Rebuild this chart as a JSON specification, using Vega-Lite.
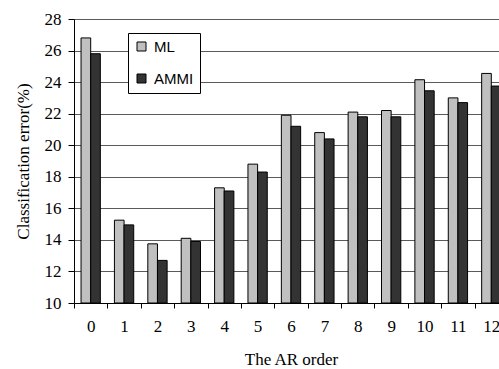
{
  "$schema": "https://vega.github.io/schema/vega-lite/v6.json",
  "autosize": "none",
  "width": 434,
  "height": 284,
  "padding": {"left": 74, "top": 19, "right": 0, "bottom": 66},
  "background": "white",
  "data": {
    "values": [
      {"order": "0", "method": "ML", "error": 26.8},
      {"order": "0", "method": "AMMI", "error": 25.8},
      {"order": "1", "method": "ML", "error": 15.25},
      {"order": "1", "method": "AMMI", "error": 14.95},
      {"order": "2", "method": "ML", "error": 13.75},
      {"order": "2", "method": "AMMI", "error": 12.7},
      {"order": "3", "method": "ML", "error": 14.1},
      {"order": "3", "method": "AMMI", "error": 13.9},
      {"order": "4", "method": "ML", "error": 17.3},
      {"order": "4", "method": "AMMI", "error": 17.1},
      {"order": "5", "method": "ML", "error": 18.8},
      {"order": "5", "method": "AMMI", "error": 18.3},
      {"order": "6", "method": "ML", "error": 21.9},
      {"order": "6", "method": "AMMI", "error": 21.2},
      {"order": "7", "method": "ML", "error": 20.8},
      {"order": "7", "method": "AMMI", "error": 20.4},
      {"order": "8", "method": "ML", "error": 22.1},
      {"order": "8", "method": "AMMI", "error": 21.8},
      {"order": "9", "method": "ML", "error": 22.2},
      {"order": "9", "method": "AMMI", "error": 21.8},
      {"order": "10", "method": "ML", "error": 24.15},
      {"order": "10", "method": "AMMI", "error": 23.45},
      {"order": "11", "method": "ML", "error": 23.0},
      {"order": "11", "method": "AMMI", "error": 22.7},
      {"order": "12", "method": "ML", "error": 24.55},
      {"order": "12", "method": "AMMI", "error": 23.75}
    ]
  },
  "mark": {"type": "bar", "stroke": "black", "strokeWidth": 1},
  "encoding": {
    "x": {
      "field": "order",
      "type": "ordinal",
      "sort": null,
      "scale": {"paddingInner": 0, "paddingOuter": 0},
      "axis": {
        "title": "The AR order",
        "labelAngle": 0,
        "labelFont": "Liberation Serif",
        "labelFontSize": 17,
        "labelColor": "black",
        "titleFont": "Liberation Serif",
        "titleFontSize": 17,
        "titleFontWeight": "normal",
        "titleColor": "black",
        "tickBand": "extent",
        "tickSize": 5,
        "tickColor": "black",
        "domainColor": "black",
        "labelPadding": 10,
        "titlePadding": 17,
        "grid": false
      }
    },
    "xOffset": {
      "field": "method",
      "type": "nominal",
      "sort": ["ML", "AMMI"],
      "scale": {"paddingInner": 0, "paddingOuter": 0.73}
    },
    "y": {
      "field": "error",
      "type": "quantitative",
      "scale": {"domain": [10, 28], "nice": false, "zero": false},
      "axis": {
        "title": "Classification error(%)",
        "values": [10, 12, 14, 16, 18, 20, 22, 24, 26, 28],
        "labelFont": "Liberation Serif",
        "labelFontSize": 17,
        "labelColor": "black",
        "titleFont": "Liberation Serif",
        "titleFontSize": 17,
        "titleFontWeight": "normal",
        "titleColor": "black",
        "tickSize": 6,
        "tickColor": "black",
        "domainColor": "black",
        "labelPadding": 7,
        "titlePadding": 12,
        "grid": true,
        "gridColor": "#5a5a5a",
        "gridOpacity": 1,
        "gridWidth": 1
      }
    },
    "y2": {"datum": 10},
    "color": {
      "field": "method",
      "type": "nominal",
      "sort": ["ML", "AMMI"],
      "scale": {"domain": ["ML", "AMMI"], "range": ["#c0c0c0", "#333333"]},
      "legend": {
        "title": null,
        "orient": "none",
        "legendX": 54,
        "legendY": 14,
        "fillColor": "white",
        "strokeColor": "black",
        "padding": 6,
        "symbolType": "square",
        "symbolSize": 81,
        "symbolStrokeColor": "black",
        "symbolStrokeWidth": 1,
        "labelFont": "Liberation Sans",
        "labelFontSize": 15,
        "labelColor": "black",
        "labelOffset": 5,
        "rowPadding": 16
      }
    }
  },
  "config": {
    "view": {"stroke": null},
    "axis": {"domainWidth": 1, "tickWidth": 1}
  }
}
